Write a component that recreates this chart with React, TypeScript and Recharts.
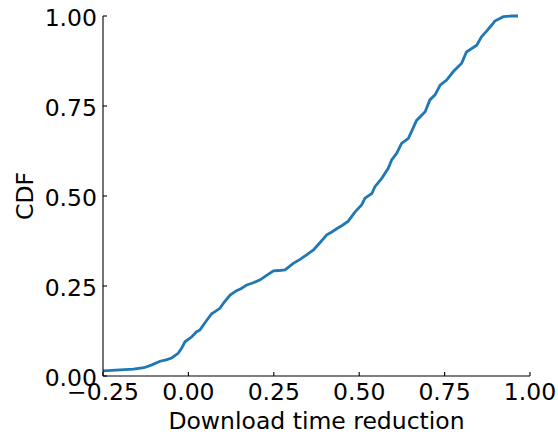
import React from 'react';
import { LineChart, Line, XAxis, YAxis, Label } from 'recharts';

// Empirical CDF of download time reduction
const reduction = [
  -0.25, -0.2, -0.161, -0.13, -0.107, -0.083, -0.065, -0.049, -0.03, -0.02,
  -0.01, 0.01, 0.024, 0.034, 0.05, 0.068, 0.08, 0.092, 0.105, 0.122,
  0.141, 0.155, 0.171, 0.19, 0.21, 0.23, 0.249, 0.265, 0.283, 0.307,
  0.327, 0.345, 0.366, 0.385, 0.405, 0.42, 0.434, 0.45, 0.468, 0.488,
  0.507, 0.517, 0.537, 0.546, 0.566, 0.585, 0.595, 0.61, 0.624, 0.644,
  0.653, 0.668, 0.693, 0.707, 0.722, 0.737, 0.756, 0.775, 0.8, 0.814,
  0.844, 0.858, 0.873, 0.888, 0.897, 0.922, 0.945, 0.965,
];
const cdf = [
  0.014, 0.017, 0.019, 0.023, 0.031, 0.041, 0.045, 0.05, 0.063, 0.077,
  0.095, 0.109, 0.123, 0.128, 0.15, 0.173, 0.18, 0.188, 0.205, 0.225,
  0.237, 0.243, 0.253, 0.259, 0.267, 0.28, 0.292, 0.293, 0.295, 0.313,
  0.324, 0.336, 0.35, 0.37, 0.392, 0.4, 0.409, 0.418, 0.43, 0.456,
  0.475, 0.494, 0.507, 0.526, 0.549, 0.577, 0.6, 0.619, 0.646, 0.66,
  0.679, 0.71, 0.734, 0.767, 0.781, 0.808, 0.822, 0.845, 0.869, 0.9,
  0.919, 0.942, 0.958, 0.975, 0.986, 0.998, 1.0, 1.0,
];
const xTicks = [-0.25, 0, 0.25, 0.5, 0.75, 1.0];
const yTicks = [0, 0.25, 0.5, 0.75, 1.0];

const data = reduction.map((x, i) => ({ x, y: cdf[i] }));

const FONT = '"DejaVu Sans", sans-serif';
const FONT_SIZE = 23.5;
const TICK_LEN = 4;
const GAP_X = 7;
const GAP_Y = 6;
const fmt = (v: number) => v.toFixed(2).replace('-', '\u2212');

function XTick(props: any) {
  const { x, y, payload } = props;
  const axisY = y - GAP_X;
  return (
    <g>
      <line x1={x} x2={x} y1={axisY} y2={axisY - TICK_LEN} stroke="#000" strokeWidth={1.1} />
      <text x={x} y={axisY + 24} textAnchor="middle" fontSize={FONT_SIZE} fontFamily={FONT} fill="#000">
        {fmt(payload.value)}
      </text>
    </g>
  );
}

function YTick(props: any) {
  const { x, y, payload } = props;
  const axisX = x + GAP_Y;
  return (
    <g>
      <line x1={axisX} x2={axisX + TICK_LEN} y1={y} y2={y} stroke="#000" strokeWidth={1.1} />
      <text x={x} y={y + 9.5} textAnchor="end" fontSize={FONT_SIZE} fontFamily={FONT} fill="#000">
        {fmt(payload.value)}
      </text>
    </g>
  );
}

function XLabel(props: any) {
  const vb = props.viewBox;
  return (
    <text x={vb.x + vb.width / 2} y={vb.y + 52.5} textAnchor="middle" fontSize={FONT_SIZE} fontFamily={FONT} fill="#000">
      Download time reduction
    </text>
  );
}

function YLabel(props: any) {
  const vb = props.viewBox;
  const cy = vb.y + vb.height / 2;
  return (
    <text transform={`translate(32.5, ${cy}) rotate(-90)`} x={0} y={0} textAnchor="middle" fontSize={FONT_SIZE} fontFamily={FONT} fill="#000">
      CDF
    </text>
  );
}

export default function App() {
  return (
    <div style={{ position: 'absolute', left: 0, top: 0, background: '#fff' }}>
      <LineChart width={558} height={434} data={data} margin={{ top: 16, right: 28, bottom: 8, left: 0 }}>
        <XAxis
          dataKey="x"
          type="number"
          domain={[-0.25, 1.0]}
          ticks={xTicks}
          allowDataOverflow
          height={50}
          tickSize={0}
          tickMargin={GAP_X}
          tickLine={false}
          tick={<XTick />}
          axisLine={{ stroke: '#000', strokeWidth: 1.1 }}
          interval={0}
        >
          <Label content={<XLabel />} />
        </XAxis>
        <YAxis
          dataKey="y"
          type="number"
          domain={[0, 1.0]}
          ticks={yTicks}
          width={103}
          tickSize={0}
          tickMargin={GAP_Y}
          tickLine={false}
          tick={<YTick />}
          axisLine={{ stroke: '#000', strokeWidth: 1.1 }}
          interval={0}
        >
          <Label content={<YLabel />} />
        </YAxis>
        <Line
          type="linear"
          dataKey="y"
          stroke="#1f77b4"
          strokeWidth={2.8}
          dot={false}
          isAnimationActive={false}
        />
      </LineChart>
    </div>
  );
}
